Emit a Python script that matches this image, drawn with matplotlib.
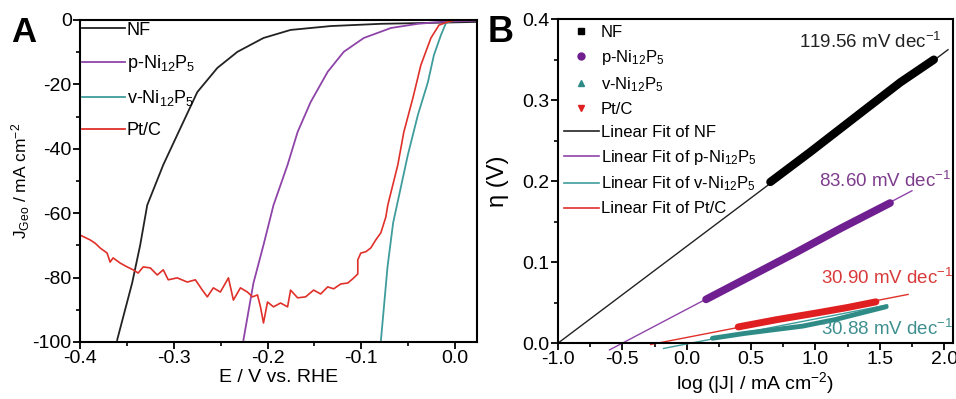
import matplotlib
matplotlib.use("Agg")
import matplotlib.pyplot as plt
from matplotlib.lines import Line2D
from matplotlib.ticker import MultipleLocator

plt.rcParams['font.family'] = ['Liberation Sans', 'DejaVu Sans']
plt.rcParams['mathtext.fontset'] = 'custom'
plt.rcParams['mathtext.rm'] = 'Liberation Sans'
plt.rcParams['mathtext.it'] = 'Liberation Sans:italic'
plt.rcParams['mathtext.default'] = 'rm'

# ---- panel A: polarisation curves (E vs RHE, J in mA cm-2) ----
nf_E = [-0.3604, -0.3444, -0.3358, -0.3283, -0.3112, -0.2963, -0.2749, -0.2535,
        -0.2321, -0.2043, -0.1754, -0.1326, -0.0791, -0.0257, 0.024]
nf_J = [-99.4, -81.7, -69.9, -57.5, -45.0, -35.7, -22.4, -14.9,
        -9.9, -5.6, -3.1, -1.9, -1.2, -0.9, -0.6]

pni_E = [-0.2257, -0.215, -0.2043, -0.1936, -0.1786, -0.1679, -0.154, -0.1358,
         -0.1187, -0.0973, -0.0684, -0.0396, -0.015, 0.024]
pni_J = [-99.4, -81.7, -69.9, -57.5, -45.0, -34.8, -25.5, -16.1,
         -9.9, -5.6, -2.5, -1.2, -0.6, -0.2]

vni_E = [-0.079, -0.072, -0.066, -0.0503, -0.0396, -0.0289, -0.0225,
         -0.015, -0.0096, 0.0, 0.024]
vni_J = [-99.4, -76.7, -63.0, -41.9, -29.5, -19.3, -10.9,
         -4.7, -0.9, 0.0, 0.0]

ptc_E = [-0.400, -0.3893, -0.3840, -0.3786, -0.3711, -0.3679, -0.3647, -0.3572,
         -0.3497, -0.3433, -0.3380, -0.3326, -0.3251, -0.3176, -0.3112, -0.3059,
         -0.2963, -0.2856, -0.2770, -0.2695, -0.2642, -0.2578, -0.2503, -0.2417,
         -0.2364, -0.2289, -0.2214, -0.2160, -0.2107, -0.2075, -0.2043, -0.2000,
         -0.1936, -0.1861, -0.1786, -0.1754, -0.1679, -0.1594, -0.1508, -0.1433,
         -0.1358, -0.1294, -0.1219, -0.1144, -0.1091, -0.1037, -0.1037, -0.1005,
         -0.0952, -0.0898, -0.0845, -0.0791, -0.0738, -0.0717, -0.061, -0.0546,
         -0.0449, -0.0364, -0.0257, -0.0171, -0.0075, 0.001, 0.024]
ptc_J = [-66.8, -68.3, -69.3, -70.8, -72.4, -75.2, -73.9, -75.5,
         -76.7, -77.6, -78.6, -76.7, -77.0, -79.2, -77.6, -80.7,
         -80.1, -81.4, -80.7, -83.9, -86.0, -83.2, -84.5, -80.1,
         -87.0, -83.2, -84.5, -86.0, -85.4, -89.1, -94.1, -87.6,
         -89.1, -87.9, -89.1, -83.9, -86.3, -86.0, -83.9, -85.1,
         -82.9, -83.5, -82.0, -81.7, -80.4, -78.9, -74.5, -72.4,
         -72.0, -70.8, -68.3, -66.1, -61.2, -57.5, -45.0, -34.8,
         -24.2, -14.0, -5.6, -1.6, -0.6, 0.0, 0.0]

# ---- panel B: Tafel data (log|J| vs overpotential) ----
nf_logj = [0.65, 0.96, 1.35, 1.66, 1.92]
nf_eta = [0.199, 0.236, 0.284, 0.322, 0.350]
pni_logj = [0.15, 0.50, 0.85, 1.20, 1.58]
pni_eta = [0.054, 0.083, 0.112, 0.142, 0.173]
vni_logj = [0.20, 0.45, 0.90, 1.15, 1.35, 1.55]
vni_eta = [0.006, 0.012, 0.021, 0.029, 0.037, 0.045]
ptc_logj = [0.40, 0.70, 1.00, 1.25, 1.47]
ptc_eta = [0.020, 0.029, 0.037, 0.044, 0.051]

# fitted Tafel slopes (V/dec), intercepts and drawn ranges
fit_slope = [0.11956, 0.0836, 0.03088, 0.0309]
fit_icpt = [0.11956, 0.0418, -0.001, 0.007]
fit_x0 = [-1.0, -0.6, -0.18, -0.28]
fit_x1 = [2.03, 1.75, 1.56, 1.72]
slope_txt = ['119.56 mV dec$^{-1}$', '83.60 mV dec$^{-1}$',
             '30.88 mV dec$^{-1}$', '30.90 mV dec$^{-1}$']

names = ['NF', 'p-Ni$_{12}$P$_5$', 'v-Ni$_{12}$P$_5$', 'Pt/C']
line_cols = ['#222222', '#8e44a8', '#3f9c9c', '#e0302a']
dot_cols = ['#000000', '#6f1f8f', '#2e8b86', '#e02020']
markers = ['s', 'o', '^', 'v']

fig = plt.figure(figsize=(9.56, 3.99), dpi=100)


def style(ax):
    for s in ax.spines.values():
        s.set_linewidth(1.5)
    ax.tick_params(which='major', direction='out', length=5, width=1.3,
                   labelsize=14, pad=1, top=False, right=False)
    ax.tick_params(which='minor', direction='out', length=3, width=1.2,
                   top=False, right=False)


# ---------------- A ----------------
axA = fig.add_axes([0.0837, 0.143, 0.4153, 0.807])
axA.plot(nf_E, nf_J, color=line_cols[0], lw=1.3)
axA.plot(pni_E, pni_J, color=line_cols[1], lw=1.3)
axA.plot(vni_E, vni_J, color=line_cols[2], lw=1.3)
axA.plot(ptc_E, ptc_J, color=line_cols[3], lw=1.2)
axA.set_xlim(-0.4, 0.0235)
axA.set_ylim(-100, 0)
axA.xaxis.set_minor_locator(MultipleLocator(0.05))
axA.yaxis.set_minor_locator(MultipleLocator(10))
axA.set_xticks([-0.4, -0.3, -0.2, -0.1, 0.0])
axA.set_xticklabels(['-0.4', '-0.3', '-0.2', '-0.1', '0.0'])
axA.set_yticks([0, -20, -40, -60, -80, -100])
axA.set_yticklabels(['0', '-20', '-40', '-60', '-80', '-100'])
style(axA)
axA.set_xlabel('E / V vs. RHE', fontsize=14, labelpad=1)
axA.set_ylabel('J$_{Geo}$ / mA cm$^{-2}$', fontsize=12.5)
axA.yaxis.set_label_coords(-0.12, 0.5)
hA = [Line2D([], [], color=c, lw=1.3) for c in line_cols]
axA.legend(hA, names, loc='upper left', bbox_to_anchor=(0, 1.0),
           borderaxespad=0, borderpad=0.1, frameon=False, fontsize=13,
           handlelength=2.4, handletextpad=0.1, labelspacing=0.78)
fig.text(0.012, 0.895, 'A', fontsize=25, fontweight='bold')

# ---------------- B ----------------
axB = fig.add_axes([0.5837, 0.140, 0.4133, 0.812])
xs = [nf_logj, pni_logj, vni_logj, ptc_logj]
ys = [nf_eta, pni_eta, vni_eta, ptc_eta]
widths = [6.0, 5.5, 3.5, 5.0]
for i in range(4):
    x0, x1 = fit_x0[i], fit_x1[i]
    axB.plot([x0, x1], [fit_slope[i] * x0 + fit_icpt[i], fit_slope[i] * x1 + fit_icpt[i]],
             color=line_cols[i], lw=1.0, clip_on=False, zorder=2)
for i in [0, 1, 2, 3]:
    axB.plot(xs[i], ys[i], color=dot_cols[i], lw=widths[i],
             solid_capstyle='round', zorder=3)
axB.set_xlim(-1.0, 2.07)
axB.set_ylim(0, 0.4)
axB.xaxis.set_minor_locator(MultipleLocator(0.25))
axB.yaxis.set_minor_locator(MultipleLocator(0.05))
axB.set_xticks([-1.0, -0.5, 0.0, 0.5, 1.0, 1.5, 2.0])
axB.set_xticklabels(['-1.0', '-0.5', '0.0', '0.5', '1.0', '1.5', '2.0'])
axB.set_yticks([0.0, 0.1, 0.2, 0.3, 0.4])
axB.set_yticklabels(['0.0', '0.1', '0.2', '0.3', '0.4'])
style(axB)
axB.set_xlabel('log (|J| / mA cm$^{-2}$)', fontsize=14, labelpad=1)
axB.set_ylabel('η (V)', fontsize=17)
axB.yaxis.set_label_coords(-0.125, 0.5)

hB = [Line2D([], [], ls='none', marker=markers[i], color=dot_cols[i], ms=5)
      for i in range(4)]
hB += [Line2D([], [], color=line_cols[i], lw=1.2) for i in range(4)]
labB = names + ['Linear Fit of ' + n for n in names]
axB.legend(hB, labB, loc='upper left', bbox_to_anchor=(0, 1.0),
           borderaxespad=0, borderpad=0.35, frameon=False, fontsize=12,
           handlelength=2.1, handletextpad=0.1, labelspacing=0.48)

axB.text(0.97, 0.93, slope_txt[0], transform=axB.transAxes, ha='right',
         va='center', fontsize=13.5, color='#222222')
axB.text(0.995, 0.50, slope_txt[1], transform=axB.transAxes, ha='right',
         va='center', fontsize=13.5, color='#7d3c8c')
axB.text(1.0, 0.20, slope_txt[3], transform=axB.transAxes, ha='right',
         va='center', fontsize=13.5, color='#d83a3a')
axB.text(1.0, 0.045, slope_txt[2], transform=axB.transAxes, ha='right',
         va='center', fontsize=13.5, color='#3f8f8f')
fig.text(0.51, 0.895, 'B', fontsize=26, fontweight='bold')

fig.savefig('out.png', dpi=100)
